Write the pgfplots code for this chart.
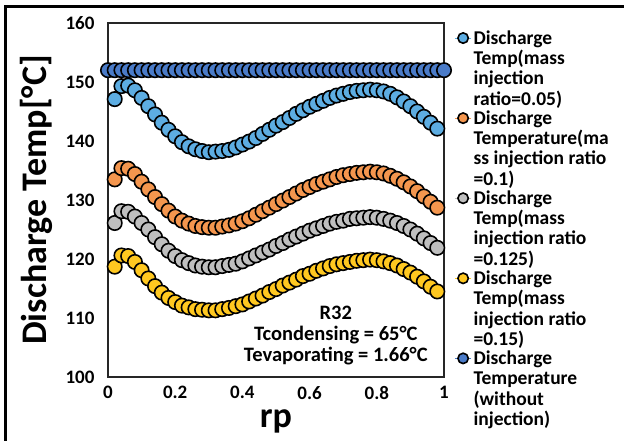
\documentclass[border=0pt]{standalone}
\usepackage{fontspec}
\setmainfont{Carlito}
\usepackage{pgfplots}
\usepackage{pgfplotstable}
\pgfplotsset{compat=1.18}
\definecolor{cLB}{HTML}{5DADE2}
\definecolor{cOR}{HTML}{F4964E}
\definecolor{cGR}{HTML}{BFBFBF}
\definecolor{cYE}{HTML}{FFC820}
\definecolor{cDB}{HTML}{4A7BC8}

\pgfplotstableread{
x a b c d
0.02 147.1 133.5 126.1 118.7
0.04 149.3 135.4 128.1 120.6
0.06 149.4 135.3 128.0 120.5
0.08 148.6 134.4 127.2 119.5
0.10 147.3 133.1 126.1 118.1
0.12 145.9 131.8 125.0 116.7
0.14 144.5 130.5 123.7 115.4
0.16 143.1 129.3 122.5 114.3
0.18 141.9 128.2 121.4 113.4
0.20 140.8 127.2 120.5 112.7
0.22 139.8 126.5 119.8 112.1
0.24 139.1 126.0 119.3 111.8
0.26 138.6 125.6 118.9 111.5
0.28 138.3 125.4 118.7 111.4
0.30 138.1 125.3 118.6 111.3
0.32 138.2 125.3 118.6 111.3
0.34 138.3 125.5 118.8 111.5
0.36 138.5 125.7 119.0 111.7
0.38 138.9 126.0 119.2 112.0
0.40 139.4 126.4 119.6 112.3
0.42 139.9 126.9 120.1 112.8
0.44 140.5 127.5 120.6 113.3
0.46 141.2 128.1 121.1 113.8
0.48 141.9 128.7 121.6 114.4
0.50 142.6 129.3 122.2 114.9
0.52 143.2 129.9 122.7 115.5
0.54 143.9 130.5 123.3 116.0
0.56 144.6 131.1 123.8 116.5
0.58 145.2 131.7 124.3 117.1
0.60 145.8 132.2 124.8 117.5
0.62 146.3 132.7 125.2 118.0
0.64 146.8 133.1 125.6 118.4
0.66 147.3 133.5 126.0 118.8
0.68 147.7 133.9 126.3 119.1
0.70 148.0 134.2 126.5 119.3
0.72 148.3 134.4 126.8 119.5
0.74 148.5 134.6 126.9 119.7
0.76 148.6 134.7 127.0 119.8
0.78 148.7 134.8 127.1 119.9
0.80 148.6 134.7 127.0 119.8
0.82 148.4 134.5 126.8 119.6
0.84 148.0 134.1 126.5 119.3
0.86 147.4 133.6 126.1 118.9
0.88 146.7 133.0 125.6 118.3
0.90 145.9 132.3 125.0 117.7
0.92 145.0 131.5 124.3 117.0
0.94 144.1 130.6 123.5 116.2
0.96 143.1 129.7 122.7 115.3
0.98 142.1 128.7 121.9 114.5
}\tabinj

\pgfplotstableread{
x y
0.00 152
0.02 152
0.04 152
0.06 152
0.08 152
0.10 152
0.12 152
0.14 152
0.16 152
0.18 152
0.20 152
0.22 152
0.24 152
0.26 152
0.28 152
0.30 152
0.32 152
0.34 152
0.36 152
0.38 152
0.40 152
0.42 152
0.44 152
0.46 152
0.48 152
0.50 152
0.52 152
0.54 152
0.56 152
0.58 152
0.60 152
0.62 152
0.64 152
0.66 152
0.68 152
0.70 152
0.72 152
0.74 152
0.76 152
0.78 152
0.80 152
0.82 152
0.84 152
0.86 152
0.88 152
0.90 152
0.92 152
0.94 152
0.96 152
0.98 152
1.00 152
}\tabnoinj

\begin{document}
\begin{tikzpicture}[x=1pt,y=1pt]
\path[use as bounding box] (0,0) rectangle (624,441);
\draw[line width=3.5pt] (5.5,0) -- (5.5,434.5) -- (624,434.5);
\begin{axis}[
  at={(108pt,64pt)}, anchor=south west,
  scale only axis, width=336pt, height=354pt,
  xmin=0, xmax=1, ymin=100, ymax=160,
  xtick={0,0.2,0.4,0.6,0.8,1},
  ytick={100,110,120,130,140,150,160},
  major tick length=0pt,
  axis line style={line width=1.5pt, draw=black!85},
  /pgf/number format/assume math mode=true,
  tick label style={font=\fontsize{19}{19}\selectfont\bfseries},
  yticklabel style={xshift=-10pt},
  xticklabel style={yshift=-6pt},
  xlabel={rp}, ylabel={Discharge Temp[°C]},
  every axis x label/.style={at={(axis description cs:0.5,-0.144)}, anchor=base, font=\fontsize{36}{36}\selectfont\bfseries},
  every axis y label/.style={at={(axis description cs:-0.214,0.5)}, rotate=90, anchor=center, font=\fontsize{36}{36}\selectfont\bfseries},
  clip=false,
  legend style={at={(1.031,0.985)}, anchor=north west, draw=none, fill=none,
    font=\fontsize{19.5}{20.3}\selectfont\bfseries, row sep=0pt, inner sep=0pt,
    cells={anchor=west, align=left}},
  legend image code/.code={%
    \draw[#1,sharp plot,line width=1pt,mark size=5.2pt,mark repeat=2,mark phase=2,yshift=30.5pt] plot coordinates {(0pt,0pt) (8pt,0pt) (16pt,0pt)};
    \path (0pt,-36pt) (0pt,36pt);},
  every axis plot/.append style={only marks, mark=*, mark size=7.2pt},
]
\addplot[color=cLB, mark options={draw=black, fill=cLB, line width=1.6pt}] table[x=x,y=a] {\tabinj};
\addlegendentry{Discharge\\Temp(mass\\injection\\ratio=0.05)}
\addplot[color=cOR, mark options={draw=black, fill=cOR, line width=1.6pt}] table[x=x,y=b] {\tabinj};
\addlegendentry{Discharge\\Temperature(ma\\ss injection ratio\\=0.1)}
\addplot[color=cGR, mark options={draw=black, fill=cGR, line width=1.6pt}] table[x=x,y=c] {\tabinj};
\addlegendentry{Discharge\\Temp(mass\\injection ratio\\=0.125)}
\addplot[color=cYE, mark options={draw=black, fill=cYE, line width=1.6pt}] table[x=x,y=d] {\tabinj};
\addlegendentry{Discharge\\Temp(mass\\injection ratio\\=0.15)}
\addplot[color=cDB, mark options={draw=black, fill=cDB, line width=1.6pt}] table[x=x,y=y] {\tabnoinj};
\addlegendentry{Discharge\\Temperature\\(without\\injection)}
\node[align=center, font=\fontsize{20.5}{21}\selectfont\bfseries] at (axis cs:0.678,107.1) {R32\\Tcondensing = 65°C\\Tevaporating = 1.66°C};
\end{axis}
\end{tikzpicture}
\end{document}
